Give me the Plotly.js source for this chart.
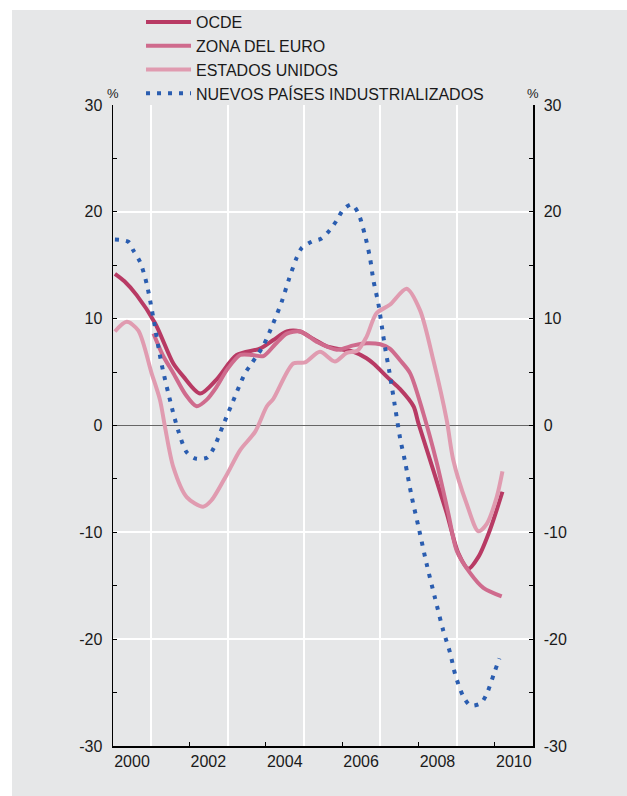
<!DOCTYPE html>
<html>
<head>
<meta charset="utf-8">
<script src="https://cdn.plot.ly/plotly-3.0.1.min.js"></script>
<style>
  html, body { margin: 0; padding: 0; background: #ffffff; }
  #chart { position: absolute; left: 12px; top: 10px; width: 615px; height: 786px; }
</style>
</head>
<body>
<div id="chart"></div>
<script>
// ---- Data ----
const seriesNames = ["OCDE", "ZONA DEL EURO", "ESTADOS UNIDOS", "NUEVOS PAÍSES INDUSTRIALIZADOS"];

const ocdeX = [2000.05, 2000.3, 2000.62, 2001.1, 2001.58, 2001.84, 2002.28, 2002.71, 2003.24, 2003.85, 2004.2, 2004.55, 2004.9, 2005.25, 2005.6, 2006.0, 2006.3, 2006.64, 2006.82, 2007.25, 2007.52, 2007.87, 2008.0, 2008.39, 2008.74, 2009.05, 2009.31, 2009.57, 2009.87, 2010.2];
const ocdeY = [14.2, 13.5, 12.2, 9.6, 5.8, 4.6, 3.0, 4.3, 6.6, 7.2, 8.0, 8.8, 8.8, 8.1, 7.4, 7.1, 6.9, 6.3, 5.8, 4.3, 3.4, 1.8, 0.2, -4.2, -8.2, -12.0, -13.4, -12.3, -9.8, -6.2];

const euroX = [2001.06, 2001.3, 2001.58, 2001.9, 2002.19, 2002.45, 2002.71, 2003.0, 2003.33, 2003.65, 2003.94, 2004.25, 2004.55, 2004.9, 2005.33, 2005.86, 2006.3, 2006.64, 2007.0, 2007.25, 2007.52, 2007.78, 2008.13, 2008.48, 2008.78, 2009.0, 2009.35, 2009.7, 2010.18];
const euroY = [8.6, 6.6, 4.9, 2.9, 1.8, 2.4, 3.6, 5.3, 6.6, 6.6, 6.5, 7.6, 8.6, 8.8, 7.85, 7.1, 7.5, 7.7, 7.6, 7.2, 6.1, 4.9, 1.1, -3.5, -8.2, -11.7, -13.8, -15.2, -16.0];

const usX = [2000.05, 2000.36, 2000.66, 2001.01, 2001.23, 2001.36, 2001.58, 2001.93, 2002.36, 2002.58, 2002.98, 2003.33, 2003.72, 2004.03, 2004.2, 2004.72, 2005.03, 2005.42, 2005.81, 2006.12, 2006.4, 2006.64, 2006.9, 2007.25, 2007.69, 2008.04, 2008.39, 2008.74, 2008.91, 2009.26, 2009.57, 2009.79, 2010.05, 2010.2];
const usY = [8.8, 9.7, 8.9, 4.9, 2.4, -0.1, -3.9, -6.7, -7.6, -7.0, -4.6, -2.3, -0.6, 1.8, 2.5, 5.8, 5.9, 6.9, 6.0, 6.8, 7.0, 8.3, 10.5, 11.3, 12.8, 10.8, 6.1, 0.5, -3.2, -7.3, -9.9, -9.2, -6.7, -4.3];

const nieX = [2000.05, 2000.4, 2000.53, 2000.71, 2000.88, 2001.06, 2001.27, 2001.54, 2001.71, 2001.93, 2002.17, 2002.47, 2002.64, 2002.87, 2003.1, 2003.46, 2003.63, 2003.94, 2004.2, 2004.42, 2004.6, 2004.81, 2004.94, 2005.2, 2005.46, 2005.68, 2005.86, 2006.03, 2006.25, 2006.42, 2006.6, 2006.73, 2006.82, 2006.95, 2007.04, 2007.13, 2007.24, 2007.38, 2007.52, 2007.65, 2007.82, 2008.02, 2008.21, 2008.43, 2008.65, 2008.83, 2008.97, 2009.18, 2009.36, 2009.63, 2009.79, 2009.99, 2010.12];
const nieY = [17.4, 17.2, 16.4, 15.3, 13.3, 10.0, 5.8, 1.7, -0.5, -2.5, -3.1, -3.0, -2.1, -0.1, 1.9, 4.9, 5.8, 7.5, 9.6, 11.6, 13.6, 15.7, 16.6, 17.2, 17.5, 18.3, 19.2, 20.2, 20.7, 19.9, 17.8, 15.7, 13.6, 11.4, 9.3, 7.2, 5.0, 1.9, -1.2, -3.4, -6.6, -9.8, -12.9, -16.1, -19.2, -21.3, -23.4, -25.4, -26.2, -26.0, -25.1, -23.1, -21.8];

const yearTickVals = [2000, 2002, 2004, 2006, 2008, 2010];
const yearTickText = ["2000", "2002", "2004", "2006", "2008", "2010"];
const gridYears = [2001, 2003, 2005, 2007, 2009];
const yTickVals = [-30, -20, -10, 0, 10, 20, 30];
const yTickText = ["-30", "-20", "-10", "0", "10", "20", "30"];

// ---- Styles ----
const colors = ["#b83a64", "#cf6b8d", "#e09bb0", "#2a5db0"];
const FONT = "'Liberation Sans', Arial, Helvetica, sans-serif";
const BG = "#e6e7e8";

const traces = [
  { x: ocdeX, y: ocdeY, name: seriesNames[0], mode: "lines",
    line: { color: colors[0], width: 4, shape: "spline", smoothing: 0.8 } },
  { x: euroX, y: euroY, name: seriesNames[1], mode: "lines",
    line: { color: colors[1], width: 4, shape: "spline", smoothing: 0.8 } },
  { x: usX, y: usY, name: seriesNames[2], mode: "lines",
    line: { color: colors[2], width: 4, shape: "spline", smoothing: 0.8 } },
  { x: nieX, y: nieY, name: seriesNames[3], mode: "lines", yaxis: "y2",
    line: { color: colors[3], width: 4, dash: "4px,7px", shape: "spline", smoothing: 0.8 } }
];
traces.forEach(t => { t.hoverinfo = "skip"; });

const yCommon = {
  range: [-30, 30], tickmode: "array", tickvals: yTickVals, ticktext: yTickText,
  ticks: "inside", ticklen: 4, tickwidth: 1, tickcolor: "#000",
  minor: { dtick: 5, tick0: 0, ticks: "inside", ticklen: 4, tickwidth: 1, tickcolor: "#000", showgrid: false },
  showline: true, linecolor: "#000", linewidth: 1.5,
  tickfont: { family: FONT, size: 16, color: "#1a1a1a" },
  ticklabelstandoff: 6, fixedrange: true
};

const layout = {
  width: 615, height: 786,
  paper_bgcolor: BG, plot_bgcolor: BG,
  margin: { l: 101, r: 94, t: 95, b: 50, autoexpand: false },
  showlegend: true,
  legend: {
    x: 0.0667, xanchor: "left", y: 1.156, yanchor: "top",
    bgcolor: "rgba(0,0,0,0)", font: { family: FONT, size: 16, color: "#1a1a1a" },
    itemwidth: 45, traceorder: "normal", tracegroupgap: 0
  },
  xaxis: {
    range: [2000, 2011], tickmode: "array", tickvals: yearTickVals, ticktext: yearTickText,
    ticks: "inside", ticklen: 4, tickwidth: 1, tickcolor: "#000",
    ticklabelshift: 19,
    showgrid: false, zeroline: false,
    minor: { tickmode: "array", tickvals: gridYears, ticks: "", showgrid: true, gridcolor: "#ffffff", gridwidth: 2 },
    showline: true, linecolor: "#000", linewidth: 2,
    tickfont: { family: FONT, size: 16, color: "#1a1a1a" },
    fixedrange: true
  },
  yaxis: Object.assign({}, yCommon, {
    side: "left", showgrid: true, gridcolor: "#ffffff", gridwidth: 2,
    zeroline: true, zerolinecolor: "#666666", zerolinewidth: 1.5
  }),
  yaxis2: Object.assign({}, yCommon, {
    side: "right", overlaying: "y", showgrid: false, zeroline: false
  }),
  annotations: [
    { text: "%", xref: "paper", yref: "paper", x: 0, y: 1, xanchor: "center", yanchor: "bottom",
      showarrow: false, yshift: 2, font: { family: FONT, size: 13, color: "#1a1a1a" } },
    { text: "%", xref: "paper", yref: "paper", x: 1, y: 1, xanchor: "center", yanchor: "bottom",
      showarrow: false, yshift: 2, font: { family: FONT, size: 13, color: "#1a1a1a" } }
  ]
};

Plotly.newPlot("chart", traces, layout, { staticPlot: true, displayModeBar: false });
</script>
</body>
</html>
